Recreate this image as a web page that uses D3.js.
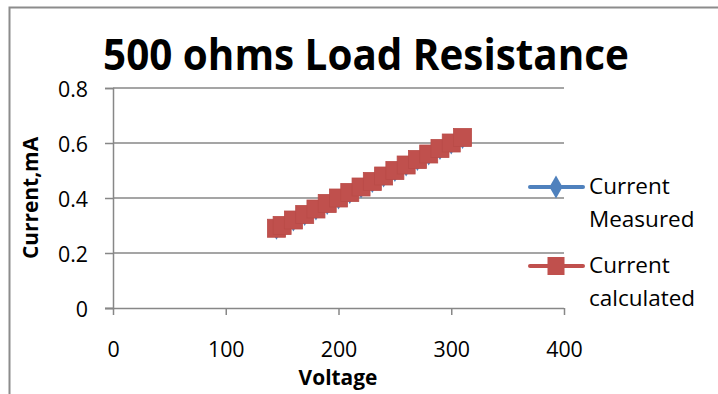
<!DOCTYPE html>
<html>
<head>
<meta charset="utf-8">
<script src="https://cdn.jsdelivr.net/npm/d3@7/dist/d3.min.js"></script>
<style>
  html, body { margin: 0; padding: 0; background: #fff; }
  svg { display: block; }
  text { font-family: "Open Sans", "Noto Sans", sans-serif; fill: #000; }
</style>
</head>
<body>
<svg id="chart" width="718" height="394"></svg>
<script>
// Voltage sweep (V) and the load current (mA) through the 500 ohm resistor
const voltage = [145, 150, 160, 170, 180, 190, 200, 210, 220, 230, 240, 250, 260, 270, 280, 290, 300, 310];
const currentMeasured = [0.28, 0.29, 0.31, 0.33, 0.35, 0.37, 0.39, 0.41, 0.43, 0.45, 0.47, 0.49, 0.51, 0.53, 0.55, 0.57, 0.59, 0.61];
const currentCalculated = [0.29, 0.30, 0.32, 0.34, 0.36, 0.38, 0.40, 0.42, 0.44, 0.46, 0.48, 0.50, 0.52, 0.54, 0.56, 0.58, 0.60, 0.62];

const xTicks = [0, 100, 200, 300, 400];
const yTicks = [0, 0.2, 0.4, 0.6, 0.8];
const seriesNames = ["Current Measured", "Current calculated"];

const blue = "#4f81bd", red = "#c0504d", grid = "#878787";

const svg = d3.select("#chart");

// narrow the humanist face a little so labels keep their proportions
function condense(sel, k) {
  sel.each(function () {
    const w = this.getComputedTextLength();
    d3.select(this).attr("textLength", w * k).attr("lengthAdjust", "spacingAndGlyphs");
  });
}

// outer frame of the chart object
svg.append("path")
  .attr("d", "M9.5,394 V7.5 H718")
  .attr("fill", "none").attr("stroke", "#8c8c8c").attr("stroke-width", 2);

const plot = { left: 113, right: 564, top: 88, bottom: 308 };

const x = d3.scaleLinear().domain([0, 400]).range([plot.left, plot.right]);
const y = d3.scaleLinear().domain([0, 0.8]).range([plot.bottom, plot.top]);

// horizontal gridlines
svg.append("g").selectAll("line").data(yTicks.filter(d => d > 0)).join("line")
  .attr("x1", plot.left).attr("x2", plot.right)
  .attr("y1", d => y(d)).attr("y2", d => y(d))
  .attr("stroke", grid).attr("stroke-width", 1.5);

// y axis
const yAxis = svg.append("g").attr("transform", `translate(${plot.left},0)`)
  .call(d3.axisLeft(y).tickValues(yTicks).tickFormat(d => d === 0 ? "0" : d3.format(".1f")(d)).tickSize(8).tickPadding(17));
yAxis.select(".domain").attr("stroke", grid).attr("stroke-width", 1.5);
yAxis.selectAll(".tick line").attr("stroke", grid).attr("stroke-width", 1.5);
yAxis.selectAll(".tick text").attr("font-size", 22.5).attr("font-family", null).attr("dy", "0.36em");

// x axis
const xAxis = svg.append("g").attr("transform", `translate(0,${plot.bottom})`)
  .call(d3.axisBottom(x).tickValues(xTicks).tickFormat(d3.format("d")).tickSize(7).tickPadding(26));
xAxis.select(".domain").attr("stroke", grid).attr("stroke-width", 1.5)
  .attr("d", `M${plot.left - 8},0.5H${plot.right}`);
xAxis.selectAll(".tick line").attr("stroke", grid).attr("stroke-width", 1.5);
xAxis.selectAll(".tick text").attr("font-size", 22.5).attr("font-family", null);
svg.selectAll(".tick text").call(condense, 0.95);

// series lines and markers
const line = d3.line().x((d, i) => x(voltage[i])).y(d => y(d));

svg.append("path").datum(currentMeasured)
  .attr("d", line).attr("fill", "none").attr("stroke", blue).attr("stroke-width", 3);
svg.append("g").selectAll("path").data(currentMeasured).join("path")
  .attr("d", d3.symbol(d3.symbolDiamond, 90))
  .attr("transform", (d, i) => `translate(${x(voltage[i])},${y(d)})`)
  .attr("fill", blue);

svg.append("path").datum(currentCalculated)
  .attr("d", line).attr("fill", "none").attr("stroke", red).attr("stroke-width", 3);
const sq = 18;
svg.append("g").selectAll("rect").data(currentCalculated).join("rect")
  .attr("x", (d, i) => x(voltage[i]) - sq / 2).attr("y", d => y(d) - sq / 2)
  .attr("width", sq).attr("height", sq)
  .attr("fill", red).attr("stroke", "#b94b48").attr("stroke-width", 0.8);

// titles
svg.append("text").attr("x", 366).attr("y", 70).attr("text-anchor", "middle")
  .attr("font-size", 42.5).attr("font-weight", "bold").text("500 ohms Load Resistance")
  .call(condense, 0.95);
svg.append("text").attr("x", 338).attr("y", 385).attr("text-anchor", "middle")
  .attr("font-size", 22).attr("font-weight", "bold").text("Voltage")
  .call(condense, 0.95);
svg.append("text").attr("transform", "translate(38,198) rotate(-90)").attr("text-anchor", "middle")
  .attr("font-size", 22).attr("font-weight", "bold").text("Current,mA")
  .call(condense, 0.95);

// legend
const legend = svg.append("g");
const legendRows = [
  { name: seriesNames[0], color: blue, y: 187, shape: "diamond" },
  { name: seriesNames[1], color: red, y: 266, shape: "square" }
];
legendRows.forEach(r => {
  legend.append("line").attr("x1", 530).attr("x2", 583).attr("y1", r.y).attr("y2", r.y)
    .attr("stroke", r.color).attr("stroke-width", 4).attr("stroke-linecap", "round");
  if (r.shape === "diamond") {
    legend.append("path").attr("d", d3.symbol(d3.symbolDiamond, 150))
      .attr("transform", `translate(556,${r.y})`).attr("fill", r.color);
  } else {
    legend.append("rect").attr("x", 556 - 8.5).attr("y", r.y - 9).attr("width", 17).attr("height", 18)
      .attr("fill", r.color);
  }
  const words = r.name.split(" ");
  const t = legend.append("text").attr("x", 589).attr("y", r.y + 7).attr("font-size", 22.5);
  t.append("tspan").attr("x", 589).text(words[0]);
  t.append("tspan").attr("x", 589).attr("dy", 33).text(words[1]);
});
legend.selectAll("tspan").call(condense, 1.0);
</script>
</body>
</html>
